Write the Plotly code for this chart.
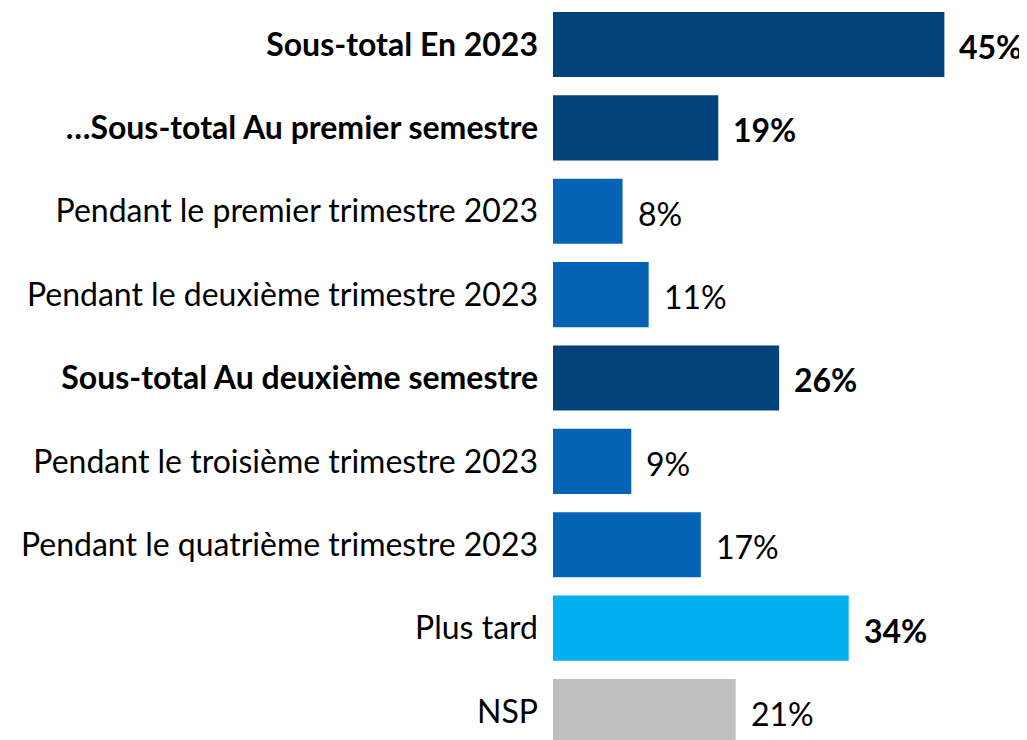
import plotly.graph_objects as go

categories = [
    "Sous-total En 2023",
    "…Sous-total Au premier semestre",
    "Pendant le premier trimestre 2023",
    "Pendant le deuxième trimestre 2023",
    "Sous-total Au deuxième semestre",
    "Pendant le troisième trimestre 2023",
    "Pendant le quatrième trimestre 2023",
    "Plus tard",
    "NSP",
]
values = [45, 19, 8, 11, 26, 9, 17, 34, 21]

# styles
bar_colors = ["#02427A", "#02427A", "#0563B6", "#0563B6", "#02427A",
              "#0563B6", "#0563B6", "#00B0F0", "#BFBFBF"]
bold_label = [True, True, False, False, True, False, False, False, False]
bold_value = [True, True, False, False, True, False, False, True, False]

FONT = "Lato, Calibri, Carlito, sans-serif"
FS = 32

ticktext = [f"<b>{c}</b>" if b else c for c, b in zip(categories, bold_label)]

fig = go.Figure()
fig.add_trace(go.Bar(
    x=values,
    y=categories,
    orientation="h",
    marker=dict(color=bar_colors, line=dict(width=0)),
    width=0.78,
    hoverinfo="skip",
))

for c, v, b in zip(categories, values, bold_value):
    t = f"{v}%"
    fig.add_annotation(
        x=v, y=c, xref="x", yref="y",
        text=f"<b>{t}</b>" if b else t,
        showarrow=False, xanchor="left", yanchor="middle",
        xshift=13, yshift=-2,
        font=dict(family=FONT, size=FS, color="#000000"),
    )

fig.update_layout(
    width=1019, height=732,
    margin=dict(l=545, r=0, t=0, b=0),
    plot_bgcolor="white", paper_bgcolor="white",
    showlegend=False,
    font=dict(family=FONT, size=FS, color="#000000"),
)
fig.update_xaxes(range=[0, 54.5], visible=False, fixedrange=True)
fig.update_yaxes(
    categoryorder="array", categoryarray=categories,
    range=[8.342, -0.4376],
    tickvals=categories, ticktext=ticktext,
    showgrid=False, zeroline=False, showline=False,
    ticks="", ticklabelstandoff=14,
    tickfont=dict(family=FONT, size=FS, color="#000000"),
    fixedrange=True,
)

fig.write_html("out.html")
